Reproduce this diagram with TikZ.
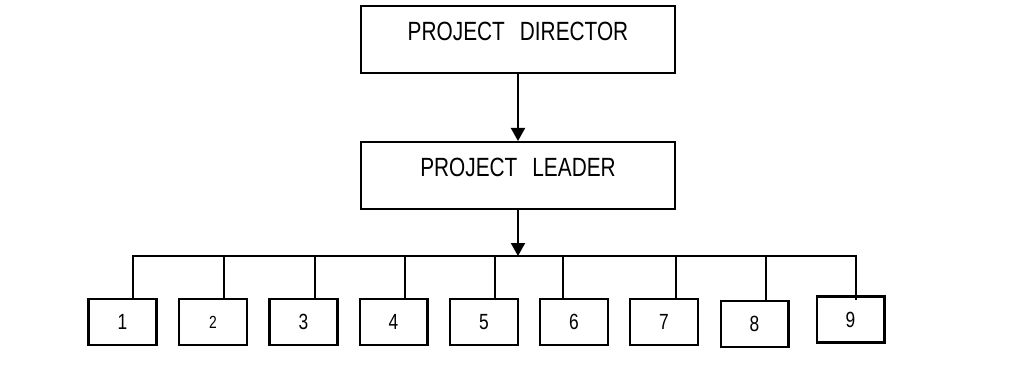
\documentclass[tikz,border=0pt]{standalone}
\usepackage{fontspec}
\setmainfont{Liberation Sans}[FakeStretch=0.79]
\usetikzlibrary{positioning,arrows.meta}

\begin{document}
\begin{tikzpicture}[x=0.02cm, y=-0.02cm, line width=1.15pt,
  >={Triangle[width=0.28cm,length=0.26cm]},
  head/.style = {draw, rectangle, minimum width=6.3cm, minimum height=1.34cm,
    font=\fontsize{15}{18}\selectfont, text depth=0.32cm},
  member/.style = {draw, rectangle, minimum width=1.36cm, minimum height=0.92cm,
    font=\fontsize{12.5}{15}\selectfont}]
  \useasboundingbox (0,0) rectangle (1018,368);

  \node[head] (PD) at (518,39.5) {PROJECT\hspace{0.3cm}DIRECTOR};
  \node[head] (PL) at (518,175.5) {PROJECT\hspace{0.3cm}LEADER};

  \node[member] (1) at (122.5,322) {1};
  \node[member] (2) at (213,322) {\fontsize{10}{12}\selectfont 2};
  \node[member] (3) at (303.5,322) {3};
  \node[member] (4) at (393.5,322) {4};
  \node[member] (5) at (484,322) {5};
  \node[member] (6) at (574,322) {6};
  \node[member] (7) at (664,322) {7};
  \node[member] (8) at (754.5,324) {8};
  \node[member] (9) at (850.5,319.5) {9};

  % taps on the bus line
  \coordinate (bus) at (518,256);
  \coordinate (t1) at (133,256);
  \coordinate (t2) at (224,256);
  \coordinate (t3) at (315,256);
  \coordinate (t4) at (405,256);
  \coordinate (t5) at (495,256);
  \coordinate (t6) at (563,256);
  \coordinate (t7) at (676,256);
  \coordinate (t8) at (766,256);
  \coordinate (t9) at (856,256);

  \draw[->] (PD) -- (PL);
  \draw[->] (PL) -- (bus);

  \draw (t1 |- 1.north) -- (t1) -- (t9) -- ([yshift=-0.1cm]t9 |- 9.north);
  \foreach \i in {2,...,8}
    \draw (t\i) -- (t\i |- \i.north);

\end{tikzpicture}
\end{document}
